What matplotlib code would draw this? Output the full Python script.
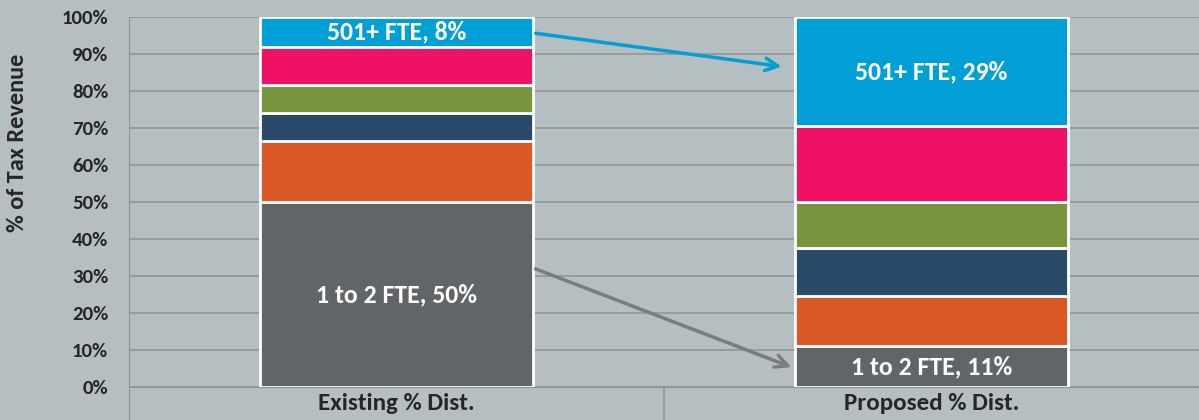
import numpy as np
import matplotlib
matplotlib.use("Agg")
from matplotlib import pyplot as plt

plt.rcParams['font.family'] = ['Carlito', 'DejaVu Sans']

categories = ["Existing % Dist.", "Proposed % Dist."]
segments = ["1 to 2 FTE", "3 to 10 FTE", "11 to 50 FTE", "51 to 100 FTE", "101 to 500 FTE", "501+ FTE"]
existing = [50, 16.5, 7.5, 7.5, 10.5, 8]
proposed = [11, 13.5, 13, 12.5, 20.5, 29.5]
colors = ["#626568", "#da5824", "#294a69", "#78953e", "#ee1164", "#00a0d6"]
labels = {(0, 0): "1 to 2 FTE, 50%", (0, 5): "501+ FTE, 8%",
          (1, 0): "1 to 2 FTE, 11%", (1, 5): "501+ FTE, 29%"}

bg = "#b5bec1"
fig = plt.figure(figsize=(11.99, 4.2), dpi=100, facecolor=bg)
ax = fig.add_axes([129 / 1199, 33 / 420, 1070 / 1199, 370 / 420])
ax.set_facecolor(bg)

x = np.arange(len(categories))
width = 0.51
data = np.array([existing, proposed])
bottoms = np.zeros(len(categories))
for j, seg in enumerate(segments):
    vals = data[:, j]
    ax.bar(x, vals, width, bottom=bottoms, color=colors[j],
           edgecolor="white", linewidth=2, zorder=3)
    for i in range(len(categories)):
        if (i, j) in labels:
            ax.text(x[i], bottoms[i] + vals[i] / 2, labels[(i, j)],
                    ha="center", va="center", color="white",
                    fontsize=18.5, fontweight="bold", zorder=5)
    bottoms += vals

# arrows between the bars
ax.annotate("", xy=(x[1] - width / 2 - 0.02, 86.5), xytext=(x[0] + width / 2, 95.7),
            arrowprops=dict(arrowstyle="->,head_length=0.9,head_width=0.45",
                            color="#00a0d6", lw=2.5), zorder=6)
ax.annotate("", xy=(x[1] - width / 2 - 0.002, 5.1), xytext=(x[0] + width / 2, 32.2),
            arrowprops=dict(arrowstyle="->,head_length=0.9,head_width=0.45",
                            color="#7a7c7e", lw=2.5), zorder=6)

ax.set_xlim(-0.5, 1.5)
ax.set_ylim(0, 100)
ax.set_yticks(np.arange(0, 101, 10))
ax.set_yticklabels([f"{v}%" for v in range(0, 101, 10)],
                   fontsize=15, fontweight="bold", color="#262626")
ax.yaxis.grid(True, color="#8f9699", lw=1.2, zorder=0)
ax.tick_params(axis="y", length=0, pad=15)

ax.set_xticks(x)
ax.set_xticklabels(categories, fontsize=18, fontweight="bold", color="#262626")
ax.tick_params(axis="x", which="major", length=0, pad=4)
ax.set_xticks([0.5], minor=True)
ax.tick_params(axis="x", which="minor", length=24, width=1.2, color="#8f9699")

for s in ["top", "right"]:
    ax.spines[s].set_visible(False)
ax.spines["bottom"].set_color("#8f9699")
ax.spines["left"].set_color("#8f9699")
ax.spines["left"].set_bounds(-100, 100)
ax.spines["left"].set_clip_on(False)

ax.set_ylabel("% of Tax Revenue", fontsize=17.5, fontweight="bold", color="#262626")
ax.yaxis.set_label_coords(-0.094, 0.66)

fig.savefig("out.png", dpi=100, facecolor=bg)
